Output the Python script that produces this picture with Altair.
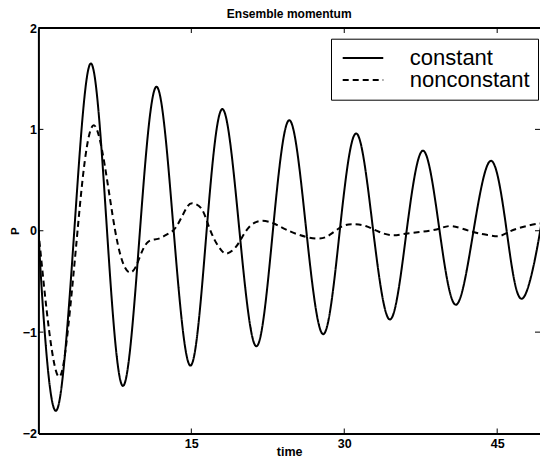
import altair as alt
import pandas as pd

title_text = "Ensemble momentum"
series_names = ["constant", "nonconstant"]
x_ticks = [15, 30, 45]
y_ticks = [-2, -1, 0, 1, 2]

const_t = [0, 0.62, 1.89, 3.52, 5.15, 6.73, 8.31, 9.96, 11.6, 13.27, 14.93, 16.5,
           18.06, 19.72, 21.39, 23.0, 24.62, 26.28, 27.95, 29.56, 31.18, 32.84,
           34.5, 36.12, 37.74, 39.35, 40.96, 42.68, 44.4, 45.93, 47.45, 49.22, 49.86]
const_p = [0, -1.0, -1.75, 0, 1.65, 0, -1.53, 0, 1.42, 0, -1.33, 0,
           1.20, 0, -1.14, 0, 1.09, 0, -1.02, 0, 0.96, 0,
           -0.875, 0, 0.79, 0, -0.73, 0, 0.69, 0, -0.67, 0, 0.47]

nonc_t = [0, 1.07, 2.05, 2.87, 3.84, 5.47, 7.53, 9.06, 9.94, 10.75, 11.73, 12.71,
          13.53, 14.5, 15.16, 15.98, 16.62, 17.28, 17.93, 18.48, 19.24, 19.89,
          20.7, 21.85, 22.98, 23.64, 25.27, 27.23, 28.53, 29.83, 30.98, 32.1,
          33.4, 34.7, 36.0, 37.66, 39.3, 40.6, 42.55, 44.2, 45.17, 46.0, 47.1,
          49.08, 49.86]
nonc_p = [0, -1.0, -1.44, -1.0, 0, 1.04, 0, -0.41, -0.26, -0.11, -0.08, -0.03,
          0.04, 0.22, 0.27, 0.22, 0.07, -0.09, -0.19, -0.225, -0.175, -0.08,
          0.04, 0.097, 0.077, 0.045, -0.03, -0.077, -0.044, 0.045, 0.064, 0.047,
          -0.01, -0.044, -0.03, -0.01, 0.02, 0.045, -0.01, -0.044, -0.054, -0.02, 0.025,
          0.07, 0.05]

df = pd.concat([
    pd.DataFrame({"time": const_t, "P": const_p, "series": series_names[0]}),
    pd.DataFrame({"time": nonc_t, "P": nonc_p, "series": series_names[1]}),
])

W, H = 501.6, 405.5
FONT = "Liberation Sans"

xscale = alt.Scale(domain=[0, 49.2], nice=False, zero=False)
yscale = alt.Scale(domain=[-2, 2], nice=False, zero=False)
x_axis = alt.Axis(values=x_ticks, title="time", ticks=False, domain=True, grid=False,
                  labelPadding=4, titleBaseline="alphabetic", titleY=21.5, format="d")
y_axis = alt.Axis(values=y_ticks, title="P", ticks=False, domain=True, grid=False,
                  labelPadding=2, titleBaseline="alphabetic", titleX=-20,
                  titleFontSize=11.5, format="d")

lines = alt.Chart(df).mark_line(interpolate="natural", strokeWidth=2, color="black", clip=True).encode(
    x=alt.X("time:Q", scale=xscale, axis=x_axis),
    y=alt.Y("P:Q", scale=yscale, axis=y_axis),
    strokeDash=alt.StrokeDash(
        "series:N",
        scale=alt.Scale(domain=series_names, range=[[1, 0], [6, 4]]),
        legend=alt.Legend(title=None, orient="none", legendX=292.6, legendY=10.7,
                          direction="vertical", symbolType="M-0.8,0H3.47", symbolSize=361,
                          symbolStrokeWidth=2, symbolStrokeColor="black",
                          labelFontSize=22, labelFont=FONT, labelColor="black",
                          labelOffset=48.5, padding=8.3, strokeColor="black",
                          fillColor="white", rowPadding=0, labelLimit=0),
    ),
)

xt = alt.Chart(pd.DataFrame({"time": x_ticks}))
yt = alt.Chart(pd.DataFrame({"P": y_ticks}))
rule_kw = dict(color="black", strokeWidth=1)
bottom = xt.mark_rule(**rule_kw).encode(
    x=alt.X("time:Q", scale=xscale, axis=x_axis), y=alt.value(H), y2=alt.value(H - 5))
top = xt.mark_rule(**rule_kw).encode(
    x=alt.X("time:Q", scale=xscale, axis=x_axis), y=alt.value(0), y2=alt.value(5))
left = yt.mark_rule(**rule_kw).encode(
    y=alt.Y("P:Q", scale=yscale, axis=y_axis), x=alt.value(0), x2=alt.value(5))
right = yt.mark_rule(**rule_kw).encode(
    y=alt.Y("P:Q", scale=yscale, axis=y_axis), x=alt.value(W), x2=alt.value(W - 5))
top_border = alt.Chart(pd.DataFrame({"P": [y_ticks[-1]]})).mark_rule(
    color="black", strokeWidth=2).encode(
    y=alt.Y("P:Q", scale=yscale, axis=y_axis), x=alt.value(0), x2=alt.value(W))

chart = alt.layer(lines, bottom, top, left, right, top_border).properties(
    width=W, height=H,
    title=alt.TitleParams(title_text, fontSize=12, font=FONT, fontWeight="bold",
                          anchor="middle", offset=1.2, color="black"),
    padding={"left": 30.4, "top": 20, "right": 0, "bottom": 23.5},
    autosize=alt.AutoSizeParams(type="none"),
).configure_view(
    stroke=None
).configure_axis(
    labelFont=FONT, labelFontSize=12.5, labelFontWeight="bold", labelColor="black",
    titleFont=FONT, titleFontSize=12.5, titleFontWeight="bold", titleColor="black",
    domainColor="black", domainWidth=2,
)

chart.save("out.html", embed_options={"renderer": "svg", "actions": False})
